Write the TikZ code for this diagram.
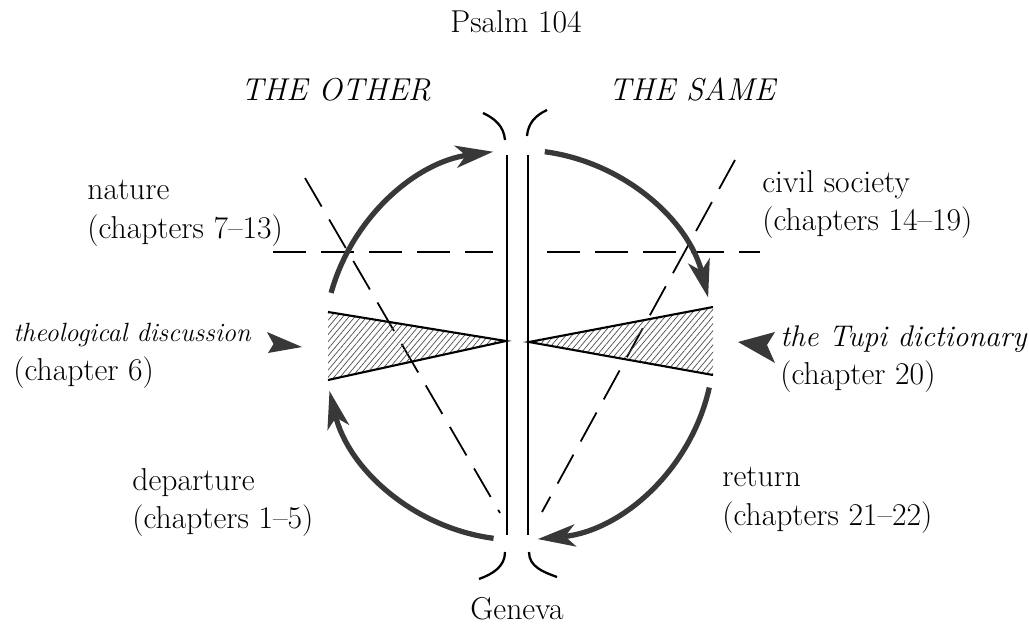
\documentclass[tikz,border=0pt]{standalone}
\usepackage{fontspec}
\usetikzlibrary{arrows.meta,patterns.meta}

\begin{document}
\begin{tikzpicture}[
  every node/.style={font=\fontsize{18}{22}\selectfont, inner sep=0pt},
  lbl/.style={anchor=north west, align=left},
  head/.style={anchor=base},
  cyc/.style={line width=3pt, draw=black!78, -{Stealth[length=7.5mm,width=4.4mm,inset=2mm]}},
  axis/.style={line width=1.3pt},
  dashline/.style={line width=1pt, dash pattern=on 0.66cm off 0.3cm},
  hatch/.style={pattern={Lines[angle=50,distance=2.6pt,line width=0.4pt]}, pattern color=black!70},
  pointer/.style={fill=black!78}
]
  \useasboundingbox (0,0) rectangle (20.58,12.52);

  % headings
  \node[head] (psalm) at (10.32,11.86) {Psalm 104};
  \node[head] (other) at (6.72,10.5) {\itshape\addfontfeature{LetterSpace=13}THE OTHER};
  \node[head] (same) at (13.84,10.5) {\itshape\addfontfeature{LetterSpace=13}THE SAME};
  \node[head] (geneva) at (10.34,0.14) {Geneva};

  % the two axes and their brackets
  \draw[axis] (10.14,9.42) -- (10.14,1.82);
  \draw[axis] (10.56,9.42) -- (10.56,1.82);
  \draw[axis] (9.66,10.26) to[out=-25,in=95] (10.1,9.72);
  \draw[axis] (10.94,10.32) to[out=205,in=85] (10.54,9.8);
  \draw[axis] (10.1,1.48) to[out=-90,in=20] (9.58,0.94);
  \draw[axis] (10.58,1.48) to[out=-90,in=160] (11.14,0.98);

  % dashed cross lines
  \draw[dashline] (5.46,7.48) -- (9.86,7.48);
  \draw[dashline] (10.94,7.48) -- (15.2,7.48);
  \draw[dashline] (6.10,8.96) -- (10.0,2.26);
  \draw[dashline] (14.7,9.32) -- (10.84,2.28);

  % hatched wedges
  \fill[hatch] (6.56,6.28) -- (10.12,5.7) -- (6.56,4.92) -- cycle;
  \draw[line width=1.2pt] (6.56,6.28) -- (10.12,5.7) -- (6.56,4.92);
  \fill[hatch] (14.26,6.38) -- (10.58,5.68) -- (14.26,5.02) -- cycle;
  \draw[line width=1.2pt] (14.26,6.38) -- (10.58,5.68) -- (14.26,5.02);

  % the voyage
  \coordinate (O) at (10.38,5.62);
  \draw[cyc] (O) ++(164.5:3.9) arc[start angle=164.5, end angle=97.6, radius=3.9];
  \draw[cyc] (O) ++(82.4:3.9) arc[start angle=82.4, end angle=14.1, radius=3.9];
  \draw[cyc] (O) ++(-12.6:3.9) arc[start angle=-12.6, end angle=-84.5, radius=3.9];
  \draw[cyc] (O) ++(-97.5:3.9) arc[start angle=-97.5, end angle=-166.4, radius=3.9];

  % labels
  \node[lbl] (nature) at (1.74,8.92) {nature\\(chapters 7--13)};
  \node[lbl] (theo) at (0.26,6.06) {\fontsize{15}{22}\selectfont\itshape theological discussion\\\fontsize{18}{22}\selectfont\upshape(chapter 6)};
  \node[lbl] (depart) at (2.64,3.16) {departure\\(chapters 1--5)};
  \node[lbl] (civil) at (15.24,9.12) {civil society\\(chapters 14--19)};
  \node[lbl] (tupi) at (15.6,6.02) {\fontsize{17}{22}\selectfont\itshape the Tupi dictionary\\\fontsize{18}{22}\selectfont\upshape(chapter 20)};
  \node[lbl] (return) at (14.44,3.18) {return\\(chapters 21--22)};

  % pointers
  \fill[pointer] (6.04,5.58) -- (5.34,5.88) -- (5.47,5.64) -- (5.36,5.46) -- cycle;
  \fill[pointer] (14.76,5.68) -- (15.5,5.88) -- (15.34,5.62) -- (15.5,5.26) -- cycle;
\end{tikzpicture}
\end{document}
